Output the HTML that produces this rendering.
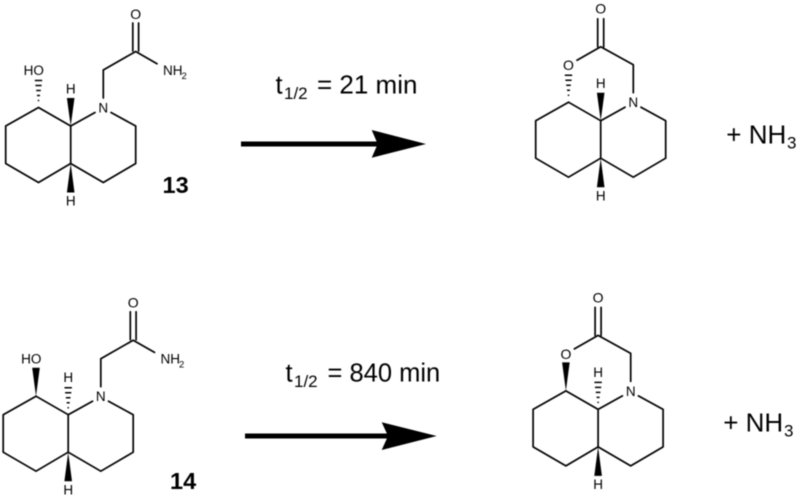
<!DOCTYPE html>
<html><head><meta charset="utf-8"><style>
html,body{margin:0;padding:0;background:#fff}
svg{display:block;filter:blur(.4px)}
text{font-family:"Liberation Sans",sans-serif;fill:#000}
.a{font-size:13.5px;text-anchor:middle}
.b{font-size:14px;text-anchor:middle}
.c{font-size:13.5px}
.d{font-size:9.5px}
.t{font-size:25.5px}
.u{font-size:26px}
.s{font-size:17px}
.n{font-size:23.5px;font-weight:bold}
.l{fill:none;stroke:#000;stroke-width:1.7;stroke-linejoin:round;stroke-linecap:round}
</style></head><body>
<svg width="800" height="497" viewBox="0 0 800 497" xmlns="http://www.w3.org/2000/svg">
<!-- 13 -->
<g>
<path class="l" d="M38.5 107.5L5.7 126V163.5L38.5 182.5L70.7 163.5V126L38.5 107.5M70.7 126L95 112.5M111 112.5L135.7 126V163.5L103.3 182.5L70.7 163.5M103.3 98V70L135.7 51.5L157 63.7M132.8 51V23M138.6 51V23"/>
<path d="M70.7 126L66.9 98H74.5Z" fill="#000"/>
<path d="M70.7 163.5L66.9 192.5H74.5Z" fill="#000"/>
<path d="M37.8 100.5h1.4M37 95.5h3M36.2 90.5h4.6M35.4 85.5h6.2M34.8 80.5h7.4" stroke="#000" stroke-width="1.5"/>
<text class="a" x="33.8" y="75">HO</text>
<text class="a" x="70.7" y="93.5">H</text>
<text class="a" x="103.3" y="112.5">N</text>
<text class="a" x="70.7" y="205.7">H</text>
<text class="b" x="135.7" y="19">O</text>
<text class="c" x="163" y="75">NH</text><text class="d" x="181.5" y="79">2</text>
<text class="n" x="162.5" y="193">13</text>
</g>
<!-- 14 -->
<g transform="translate(-2.5 288.7)">
<path class="l" d="M38.5 107.5L5.7 126V163.5L38.5 182.5L70.7 163.5V126L38.5 107.5M70.7 126L95 112.5M111 112.5L135.7 126V163.5L103.3 182.5L70.7 163.5M103.3 98V70L135.7 51.5L157 63.7M132.8 51V23M138.6 51V23"/>
<path d="M38.5 107.5L34.7 79H42.3Z" fill="#000"/>
<path d="M70.7 163.5L66.9 192.5H74.5Z" fill="#000"/>
<path d="M70 119h1.4M69.2 114h3M68.4 109h4.6M67.6 104h6.2M67 99h7.4" stroke="#000" stroke-width="1.5"/>
<text class="a" x="33.8" y="75">HO</text>
<text class="a" x="70.7" y="93.5">H</text>
<text class="a" x="103.3" y="112.5">N</text>
<text class="a" x="70.7" y="205.7">H</text>
<text class="b" x="135.7" y="19">O</text>
<text class="c" x="163" y="75">NH</text><text class="d" x="181.5" y="79">2</text>
</g>
<text class="n" x="170" y="489">14</text>
<!-- product 13 -->
<g transform="translate(530 -5.3)">
<path class="l" d="M38.5 107.5L5.7 126V163.5L38.5 182.5L70.7 163.5V126L38.5 107.5M70.7 126L95 112.5M111 112.5L135.7 126V163.5L103.3 182.5L70.7 163.5M103.3 98V70L70.7 52L47 65.5M67.7 52V24M73.7 52V24"/>
<path d="M70.7 126L66.9 98H74.5Z" fill="#000"/>
<path d="M70.7 163.5L66.9 192.5H74.5Z" fill="#000"/>
<path d="M37.8 100.5h1.4M37 95.5h3M36.2 90.5h4.6M35.4 85.5h6.2M34.8 80.5h7.4" stroke="#000" stroke-width="1.5"/>
<text class="b" x="38.5" y="75.5">O</text>
<text class="a" x="70.7" y="93.5">H</text>
<text class="a" x="103.3" y="112.5">N</text>
<text class="a" x="70.7" y="205.7">H</text>
<text class="b" x="70.7" y="19">O</text>
</g>
<!-- product 14 -->
<g transform="translate(527.4 283.4)">
<path class="l" d="M38.5 107.5L5.7 126V163.5L38.5 182.5L70.7 163.5V126L38.5 107.5M70.7 126L95 112.5M111 112.5L135.7 126V163.5L103.3 182.5L70.7 163.5M103.3 98V70L70.7 52L47 65.5M67.7 52V24M73.7 52V24"/>
<path d="M38.5 107.5L34.7 79H42.3Z" fill="#000"/>
<path d="M70.7 163.5L66.9 192.5H74.5Z" fill="#000"/>
<path d="M70 119h1.4M69.2 114h3M68.4 109h4.6M67.6 104h6.2M67 99h7.4" stroke="#000" stroke-width="1.5"/>
<text class="b" x="38.5" y="75.5">O</text>
<text class="a" x="70.7" y="93.5">H</text>
<text class="a" x="103.3" y="112.5">N</text>
<text class="a" x="70.7" y="205.7">H</text>
<text class="b" x="70.7" y="19">O</text>
</g>
<!-- arrows -->
<rect x="241" y="141.5" width="140" height="5" fill="#000"/>
<path d="M426 144L371.7 130L377.7 144L371.7 157.7Z" fill="#000"/>
<rect x="245" y="433.5" width="145" height="5" fill="#000"/>
<path d="M436.7 436L381.7 422.3L388 436L381.7 450Z" fill="#000"/>
<!-- labels -->
<text class="t" x="275.5" y="93.3">t</text><text class="s" x="284" y="99">1/2</text><text class="t" x="317" y="93.3" style="font-size:26px">= 21 min</text>
<text class="t" x="285.5" y="381.5">t</text><text class="s" x="294" y="387">1/2</text><text class="t" x="327.5" y="381.5">= 840 min</text>
<text class="u" x="726.3" y="143.3">+ NH</text><text class="s" x="787" y="148.3">3</text>
<text class="u" x="723.2" y="431.7">+ NH</text><text class="s" x="784" y="436.7">3</text>
</svg>
</body></html>
